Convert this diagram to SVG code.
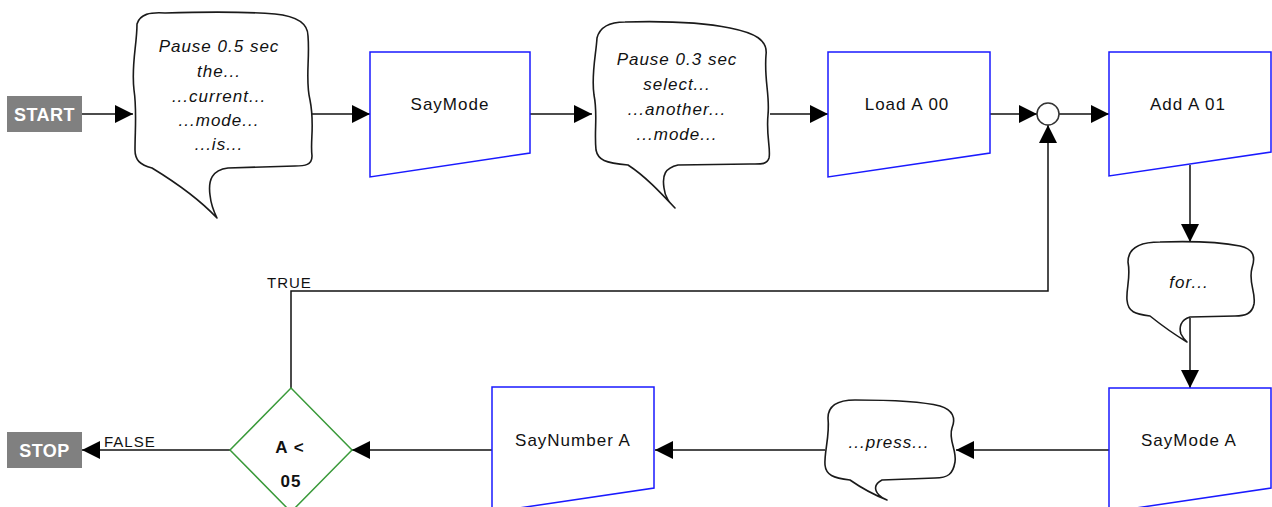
<svg xmlns="http://www.w3.org/2000/svg" width="1272" height="507" viewBox="0 0 1272 507">
  <style>
    .term rect { fill: #808080; }
    .term text { fill: #ffffff; font: bold 18px "Liberation Sans", Arial, sans-serif; letter-spacing: 0.5px; text-anchor: middle; }
    .proc path { fill: #ffffff; stroke: #1a1aff; stroke-width: 1.5; }
    .proc text { fill: #111111; font: 17px "Liberation Sans", Arial, sans-serif; letter-spacing: 1px; text-anchor: middle; }
    .say path { fill: #ffffff; stroke: #1a1a1a; stroke-width: 1.6; stroke-linejoin: round; }
    .say text { fill: #111111; font: italic 17px "Liberation Sans", Arial, sans-serif; letter-spacing: 1px; text-anchor: middle; }
    .dec path { fill: #ffffff; stroke: #3a9a3a; stroke-width: 1.5; }
    .dec text { fill: #111111; font: bold 17px "Liberation Sans", Arial, sans-serif; letter-spacing: 1px; text-anchor: middle; }
    .edges path { fill: none; stroke: #111111; stroke-width: 1.5; }
    .lbl { fill: #111111; font: 15px "Liberation Sans", Arial, sans-serif; letter-spacing: 1px; }
  </style>
  <defs>
    <marker id="arrow" viewBox="0 0 18 18" refX="18" refY="9" markerWidth="18" markerHeight="18" markerUnits="userSpaceOnUse" orient="auto">
      <path d="M0,0 L18,9 L0,18 Z" fill="#000000"/>
    </marker>
  </defs>
  <rect width="1272" height="507" fill="#ffffff"/>

  <!-- connectors -->
  <g class="edges">
    <path d="M82,114 H133" marker-end="url(#arrow)"/>
    <path d="M312,114 H370" marker-end="url(#arrow)"/>
    <path d="M530,114 H592" marker-end="url(#arrow)"/>
    <path d="M770,114 H828" marker-end="url(#arrow)"/>
    <path d="M990,114 H1037" marker-end="url(#arrow)"/>
    <path d="M1059,114 H1109" marker-end="url(#arrow)"/>
    <path d="M1190,165 V242" marker-end="url(#arrow)"/>
    <path d="M1190,318 V388" marker-end="url(#arrow)"/>
    <path d="M1109,450 H956" marker-end="url(#arrow)"/>
    <path d="M825,450 H655" marker-end="url(#arrow)"/>
    <path d="M492,450 H352" marker-end="url(#arrow)"/>
    <path d="M291,388 V291 H1048 V125" marker-end="url(#arrow)"/>
    <path d="M230,450 H82" marker-end="url(#arrow)"/>
    <text class="lbl" x="267" y="288">TRUE</text>
    <text class="lbl" x="104" y="447">FALSE</text>
  </g>

  <g id="start" class="term">
    <rect x="7" y="96" width="75" height="36"/>
    <text x="44.5" y="120.5">START</text>
  </g>

  <g id="say1" class="say">
    <path d="M137,24 C140,14 150,12 165,13 C200,12 250,12 275,14 C295,16 308,22 308,36 C310,60 305,80 310,100 C315,125 310,140 312,156 C312,165 305,166 295,166 L228,168 C212,170 208,180 210,195 C211,205 214,212 217,218 C200,200 175,182 152,168 C140,165 135,160 135,150 C135,130 137,110 134,90 C131,65 137,45 137,24 Z"/>
    <text x="219" y="52">Pause 0.5 sec</text>
    <text x="219" y="77">the...</text>
    <text x="219" y="102">...current...</text>
    <text x="219" y="126">...mode...</text>
    <text x="219" y="150">...is...</text>
  </g>

  <g id="saymode" class="proc">
    <path d="M370,52 H530 V153 L370,177 Z"/>
    <text x="450" y="110">SayMode</text>
  </g>

  <g id="say2" class="say">
    <path d="M597,38 C600,26 610,22 625,22 C660,21 700,22 730,28 C755,33 768,40 766,55 C764,80 770,95 768,115 C766,135 771,150 769,158 C767,165 760,164 750,164 L678,165 C665,168 662,175 664,188 C665,198 670,203 675,208 C660,192 645,176 628,165 C605,163 598,160 596,150 C594,130 598,115 594,95 C591,75 596,55 597,38 Z"/>
    <text x="677" y="65">Pause 0.3 sec</text>
    <text x="677" y="90">select...</text>
    <text x="677" y="115">...another...</text>
    <text x="677" y="140">...mode...</text>
  </g>

  <g id="loada" class="proc">
    <path d="M828,52 H990 V153 L828,177 Z"/>
    <text x="907" y="110">Load A 00</text>
  </g>

  <g id="join">
    <circle cx="1048" cy="114" r="11" fill="#ffffff" stroke="#333333" stroke-width="1.5"/>
  </g>

  <g id="adda" class="proc">
    <path d="M1109,52 H1271 V152 L1109,176 Z"/>
    <text x="1188" y="110">Add A 01</text>
  </g>

  <g id="say3" class="say">
    <path d="M1128,262 C1128,248 1140,242 1160,242 C1190,241 1220,242 1240,246 C1253,249 1256,256 1252,268 C1248,282 1256,292 1254,304 C1252,314 1245,316 1235,316 L1190,317 C1180,320 1179,328 1181,334 C1183,338 1185,340 1187,342 C1172,333 1160,324 1150,316 C1135,314 1128,312 1127,300 C1126,288 1131,278 1128,262 Z"/>
    <text x="1189" y="288">for...</text>
  </g>

  <g id="saymodea" class="proc">
    <path d="M1109,388 H1271 V488 L1109,512 Z"/>
    <text x="1189" y="446">SayMode A</text>
  </g>

  <g id="say4" class="say">
    <path d="M828,418 C828,405 838,400 855,400 C885,400 920,401 940,406 C953,410 956,418 952,428 C948,440 957,450 955,462 C953,474 948,478 935,478 L882,480 C874,484 874,490 879,495 C882,498 884,499 887,500 C872,494 860,487 850,480 C833,478 826,475 825,465 C824,452 830,436 828,418 Z"/>
    <text x="889" y="448">...press...</text>
  </g>

  <g id="saynumber" class="proc">
    <path d="M492,387 H654 V488 L492,512 Z"/>
    <text x="573" y="446">SayNumber A</text>
  </g>

  <g id="decision" class="dec">
    <path d="M291,388 L352,450 L291,512 L230,450 Z"/>
    <text x="290" y="453">A &lt;</text>
    <text x="291" y="487">05</text>
  </g>

  <g id="stop" class="term">
    <rect x="7" y="432" width="75" height="36"/>
    <text x="44.5" y="456.5">STOP</text>
  </g>
</svg>
